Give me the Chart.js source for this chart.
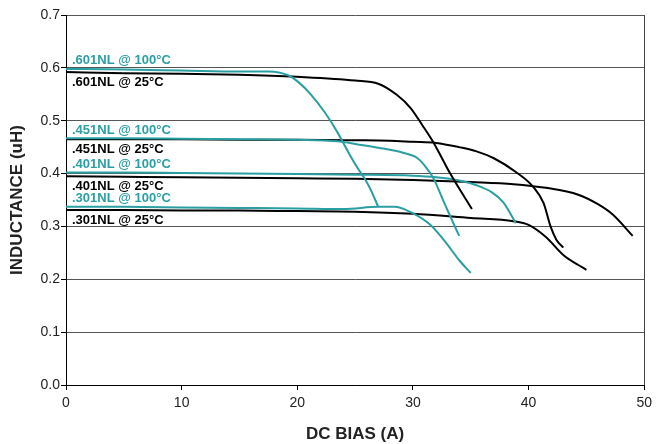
<!DOCTYPE html>
<html>
<head>
<meta charset="utf-8">
<script src="https://cdn.jsdelivr.net/npm/chart.js@4/dist/chart.umd.min.js"></script>
<style>
    html, body { margin: 0; padding: 0; background: #ffffff; }
    #wrap { width: 657px; height: 444px; }
</style>
</head>
<body>
<div id="wrap"><canvas id="chart"></canvas></div>
<script>
// DC bias (A) and inductance (uH)
const labels = [".601NL @ 100°C", ".601NL @ 25°C", ".451NL @ 100°C", ".451NL @ 25°C",
                ".401NL @ 100°C", ".401NL @ 25°C", ".301NL @ 100°C", ".301NL @ 25°C"];

const x601hot = [0, 5, 10, 15, 17.5, 19.2, 20.1, 21.2, 22.4, 23.5, 24.4, 25.2, 25.9, 26.4, 27];
const y601hot = [0.598, 0.597, 0.595, 0.593, 0.593, 0.586, 0.573, 0.549, 0.515, 0.477, 0.441, 0.411, 0.388, 0.367, 0.337];

const x601 = [0, 5, 10, 15, 20, 25, 27, 28.6, 29.8, 30.8, 31.8, 33.2, 35.1];
const y601 = [0.592, 0.59, 0.589, 0.587, 0.583, 0.576, 0.57, 0.549, 0.524, 0.492, 0.458, 0.401, 0.333];

const x451hot = [0, 5, 10, 15, 20, 23.5, 25, 27, 29.2, 30.4, 31.2, 31.8, 32.7, 33.5, 34];
const y451hot = [0.467, 0.467, 0.466, 0.465, 0.464, 0.461, 0.456, 0.449, 0.439, 0.429, 0.41, 0.39, 0.345, 0.306, 0.282];

const x451 = [0, 5, 10, 15, 20, 25, 28, 30, 32, 34, 35.5, 37, 38.9, 40.4, 41.3, 41.9, 42.4, 43];
const y451 = [0.465, 0.465, 0.465, 0.464, 0.464, 0.463, 0.462, 0.46, 0.458, 0.45, 0.442, 0.429, 0.403, 0.375, 0.344, 0.3, 0.275, 0.26];

const x401hot = [0, 5, 10, 15, 20, 25, 30, 32, 34, 35.5, 36.8, 37.8, 38.9];
const y401hot = [0.402, 0.402, 0.401, 0.4, 0.399, 0.398, 0.396, 0.393, 0.387, 0.378, 0.365, 0.346, 0.306];

const x401 = [0, 5, 10, 15, 20, 25, 30, 35, 38.7, 41.5, 44.3, 46, 47.3, 49];
const y401 = [0.395, 0.394, 0.393, 0.392, 0.391, 0.39, 0.388, 0.384, 0.38, 0.373, 0.36, 0.342, 0.322, 0.282];

const x301hot = [0, 5, 10, 15, 20, 24, 27, 28.4, 29.8, 31.5, 32.9, 34, 35];
const y301hot = [0.337, 0.337, 0.336, 0.335, 0.334, 0.333, 0.337, 0.337, 0.327, 0.303, 0.268, 0.236, 0.212];

const x301 = [0, 5, 10, 15, 20, 25, 30, 35, 38.7, 40, 41.5, 43, 44.3, 45];
const y301 = [0.331, 0.331, 0.33, 0.33, 0.329, 0.328, 0.324, 0.316, 0.31, 0.303, 0.28, 0.246, 0.227, 0.218];

const xTicks = [0, 10, 20, 30, 40, 50];
const yTicks = [0, 0.1, 0.2, 0.3, 0.4, 0.5, 0.6, 0.7];

const TEAL = "#2a9fa3";
const BLACK = "#000000";
const FONT = "'Liberation Sans', Arial, sans-serif";

function pts(xs, ys) {
    return xs.map(function (x, i) { return { x: x, y: ys[i] }; });
}

const series = [
    [x601hot, y601hot, TEAL], [x601, y601, BLACK],
    [x451hot, y451hot, TEAL], [x451, y451, BLACK],
    [x401hot, y401hot, TEAL], [x401, y401, BLACK],
    [x301hot, y301hot, TEAL], [x301, y301, BLACK]
];

const datasets = series.map(function (s, i) {
    return {
        label: labels[i],
        data: pts(s[0], s[1]),
        borderColor: s[2],
        borderWidth: 2,
        pointRadius: 0,
        fill: false,
        cubicInterpolationMode: "monotone"
    };
});

// curve names written inside the plot, next to where each curve starts
const seriesLabels = {
    id: "seriesLabels",
    afterDatasetsDraw(chart) {
        const ctx = chart.ctx;
        const left = chart.chartArea.left;
        ctx.save();
        ctx.font = "bold 13px " + FONT;
        ctx.textBaseline = "middle";
        chart.data.datasets.forEach(function (ds, i) {
            const p = chart.getDatasetMeta(i).data[0];
            ctx.fillStyle = ds.borderColor;
            const dy = ds.borderColor === TEAL ? -8 : 10;
            ctx.fillText(ds.label, left + 6, p.y + dy);
        });
        ctx.restore();
    }
};

new Chart(document.getElementById("chart"), {
    type: "line",
    data: { datasets: datasets },
    options: {
        responsive: true,
        maintainAspectRatio: false,
        animation: false,
        layout: { padding: { top: 15, right: 8, left: 0, bottom: 0 } },
        plugins: {
            legend: { display: false },
            tooltip: { enabled: false }
        },
        scales: {
            x: {
                type: "linear",
                min: 0,
                max: 50,
                afterFit: function (scale) { scale.height = 59; },
                afterBuildTicks: function (scale) {
                    scale.ticks = xTicks.map(function (v) { return { value: v }; });
                },
                ticks: {
                    color: "#222222",
                    padding: 5,
                    font: { family: FONT, size: 14 }
                },
                grid: {
                    color: function (c) { return c.tick && c.tick.value === 50 ? "#444444" : "rgba(0,0,0,0)"; },
                    tickColor: "#000000",
                    tickLength: 5,
                    lineWidth: 1
                },
                border: { color: "#000000", width: 1 },
                title: {
                    display: true,
                    text: "DC BIAS (A)",
                    color: "#222222",
                    font: { family: FONT, size: 17, weight: "bold" },
                    padding: { top: 4, bottom: -1 }
                }
            },
            y: {
                min: 0,
                max: 0.7,
                afterFit: function (scale) { scale.width = 66; },
                afterBuildTicks: function (scale) {
                    scale.ticks = yTicks.map(function (v) { return { value: v }; });
                },
                ticks: {
                    color: "#222222",
                    padding: 1,
                    callback: function (v) { return v.toFixed(1); },
                    font: { family: FONT, size: 14 }
                },
                grid: {
                    color: "#555555",
                    tickColor: "#000000",
                    tickLength: 5,
                    lineWidth: 1
                },
                border: { color: "#000000", width: 1 },
                title: {
                    display: true,
                    text: "INDUCTANCE (uH)",
                    color: "#222222",
                    font: { family: FONT, size: 17, weight: "bold" },
                    padding: { top: 7, bottom: 4 }
                }
            }
        }
    },
    plugins: [seriesLabels]
});
</script>
</body>
</html>
